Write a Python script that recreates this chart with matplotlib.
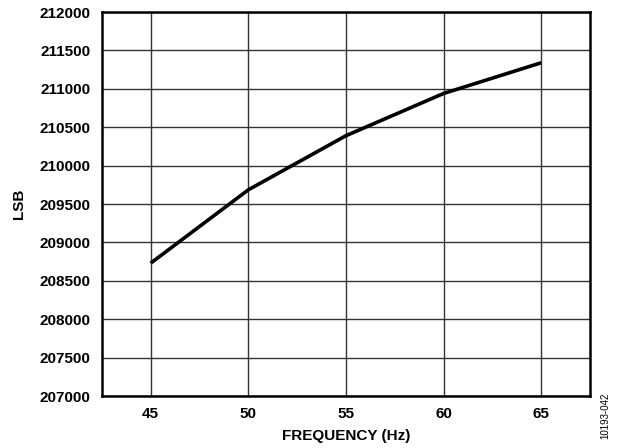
import numpy as np
import matplotlib.pyplot as plt

plt.rcParams['font.family'] = ['Liberation Sans', 'DejaVu Sans']

# data
freq = [45, 50, 55, 60, 65]
lsb = [208730, 209685, 210390, 210940, 211340]

xticks = [45, 50, 55, 60, 65]
yticks = np.arange(207000, 212001, 500)

fig = plt.figure(figsize=(6.21, 4.48), dpi=100)
ax = fig.add_axes([0.164, 0.116, 0.786, 0.857])

ax.plot(freq, lsb, color='black', linewidth=2.6, solid_capstyle='butt', zorder=3)

ax.set_xlim(42.5, 67.5)
ax.set_ylim(207000, 212000)
ax.set_xticks(xticks)
ax.set_yticks(yticks)
ax.set_yticklabels([str(v) for v in yticks])
ax.grid(True, color='#333333', linewidth=1.0)
ax.tick_params(length=0, labelsize=11, pad=8)
for lab in ax.get_xticklabels() + ax.get_yticklabels():
    lab.set_fontweight('bold')
for s in ax.spines.values():
    s.set_linewidth(1.8)

ax.set_xlabel('FREQUENCY (Hz)', fontsize=11, fontweight='bold', labelpad=6)
ax.set_ylabel('LSB', fontsize=11, fontweight='bold', labelpad=10)

fig.text(0.975, 0.02, '10193-042', rotation=90, fontsize=7, ha='center', va='bottom')

fig.savefig('out.png', dpi=100)
